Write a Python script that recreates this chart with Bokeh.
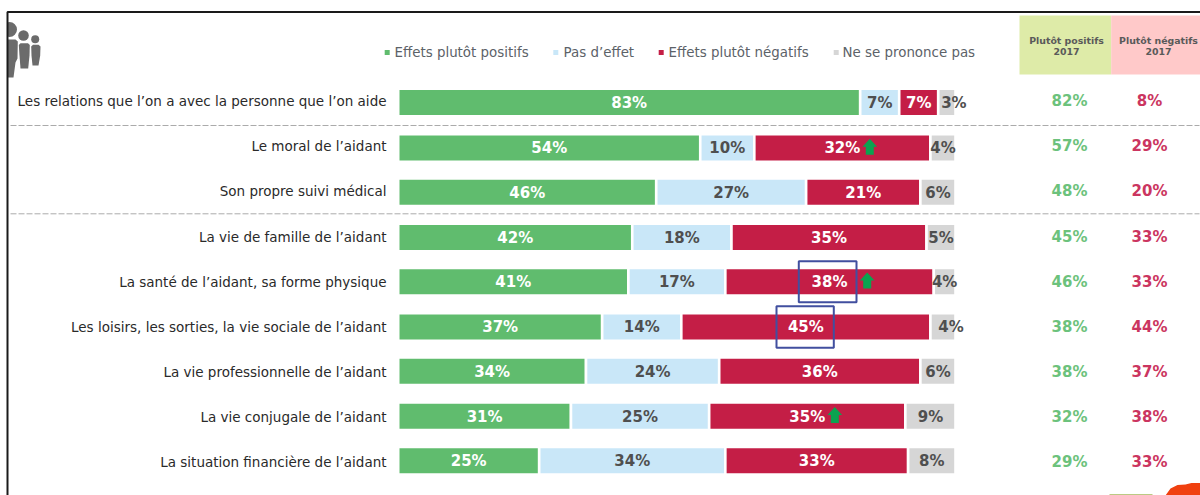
from bokeh.plotting import figure
from bokeh.models import Range1d
from bokeh.core.properties import value
from bokeh.embed import file_html
from bokeh.resources import INLINE

categories = ["Les relations que l’on a avec la personne que l’on aide", "Le moral de l’aidant",
              "Son propre suivi médical", "La vie de famille de l’aidant",
              "La santé de l’aidant, sa forme physique", "Les loisirs, les sorties, la vie sociale de l’aidant",
              "La vie professionnelle de l’aidant", "La vie conjugale de l’aidant", "La situation financière de l’aidant"]
# bar lengths
positive = [82.9, 54.2, 46.3, 42.0, 41.3, 36.6, 33.7, 31.0, 25.3]
no_effect = [7.0, 9.7, 26.9, 17.8, 17.4, 14.2, 23.9, 24.8, 33.4]
negative = [7.0, 31.6, 20.5, 35.0, 37.4, 44.7, 36.1, 35.2, 32.8]
no_opinion = [3.1, 4.5, 6.3, 5.2, 3.9, 4.5, 6.3, 9.0, 8.5]
# printed labels
positive_lbl = [83, 54, 46, 42, 41, 37, 34, 31, 25]
no_effect_lbl = [7, 10, 27, 18, 17, 14, 24, 25, 34]
negative_lbl = [7, 32, 21, 35, 38, 45, 36, 35, 33]
no_opinion_lbl = [3, 4, 6, 5, 4, 4, 6, 9, 8]
positive_2017 = [82, 57, 48, 45, 46, 38, 38, 32, 29]
negative_2017 = [8, 29, 20, 33, 33, 44, 37, 38, 33]
rows_with_arrow = [1, 4, 7]
rows_boxed = [4, 5]
legend_labels = ["Effets plutôt positifs", "Pas d’effet", "Effets plutôt négatifs", "Ne se prononce pas"]

# layout (reference pixels)
ZERO, SCALE = 397.7, 5.573
BAR_Y = [102, 147.6, 191.7, 237, 281.2, 326.5, 370.8, 415.8, 460.2]
TXT_Y = [100.5, 145.5, 190.5, 236, 281, 326, 371, 416, 461.5]
LBL_SHIFT = {0: 7, 5: 8}
ARROW_X = {1: 869.3, 4: 866.7, 7: 834.3}
BOX = {4: (798.3, 856, 260.7, 301.7), 5: (776, 833.3, 305.7, 347.3)}
GREEN, BLUE, RED, GREY = "#60BC6E", "#C9E7F8", "#C41E46", "#D6D6D6"
DARK = "#4F4F4F"
FONT = value("DejaVu Sans")


def X(px):
    return (px - ZERO) / SCALE


p = figure(width=1200, height=495, output_backend="svg", toolbar_location=None,
           x_range=Range1d(X(0), X(1200)), y_range=Range1d(495, 0),
           min_border=0, outline_line_color=None, x_axis_location=None, y_axis_location=None,
           background_fill_color="white", border_fill_color="white",
           styles={"position": "absolute", "left": "0px", "top": "0px"})
p.grid.visible = False

# header boxes
p.quad(left=[X(1019)], right=[X(1110.7)], top=[15], bottom=[74], fill_color="#DEEBA8", line_color=None)
p.quad(left=[X(1110.7)], right=[X(1200)], top=[15], bottom=[74], fill_color="#FFC9C9", line_color=None)
for cx, t in ((1066, "Plutôt positifs"), (1158, "Plutôt négatifs")):
    p.text(x=[X(cx), X(cx)], y=[39.5, 50.5], text=[t, "2017"], text_font=FONT, text_font_style="bold",
           text_font_size="9.4px", text_color="#5A5A5A", text_align="center", text_baseline="middle")

# dashed separators
for yy in (125, 213.3):
    p.line([X(10), X(1199)], [yy, yy], line_color="#ABABAB", line_width=1, line_dash="6 2")

# stacked bars
left = [0.0] * 9
for vals, col in ((positive, GREEN), (no_effect, BLUE), (negative, RED), (no_opinion, GREY)):
    right = [a + b for a, b in zip(left, vals)]
    p.hbar(y=BAR_Y, left=left, right=right, height=27.6, fill_color=col, line_color="white", line_width=2.6)
    left = right

# bar labels
left = [0.0] * 9
for vals, lbls, col, is_grey in ((positive, positive_lbl, "white", 0), (no_effect, no_effect_lbl, DARK, 0),
                                 (negative, negative_lbl, "white", 0), (no_opinion, no_opinion_lbl, DARK, 1)):
    cx = [a + b / 2 + (LBL_SHIFT.get(i, 0) / SCALE if is_grey else 0) for i, (a, b) in enumerate(zip(left, vals))]
    p.text(x=cx, y=[y + 0.3 for y in BAR_Y], text=[f"{v}%" for v in lbls], text_font=FONT, text_font_style="bold",
           text_font_size="15px", text_color=col, text_align="center", text_baseline="middle")
    left = [a + b for a, b in zip(left, vals)]

# category labels
p.text(x=[X(386)] * 9, y=TXT_Y, text=categories, text_font=FONT, text_font_size="13.5px", text_color="#2A2A2A",
       text_align="right", text_baseline="middle")

# 2017 columns
p.text(x=[X(1069)] * 9, y=TXT_Y, text=[f"{v}%" for v in positive_2017], text_font=FONT, text_font_style="bold",
       text_font_size="15px", text_color="#6CC27C", text_align="center", text_baseline="middle")
p.text(x=[X(1149)] * 9, y=TXT_Y, text=[f"{v}%" for v in negative_2017], text_font=FONT, text_font_style="bold",
       text_font_size="15px", text_color="#CB3560", text_align="center", text_baseline="middle")

# arrows
xs, ys = [], []
for r in rows_with_arrow:
    c, top = ARROW_X[r], BAR_Y[r] - 9.3
    xs.append([X(c + d) for d in (0, 7.3, 4, 4, -4, -4, -7.3)])
    ys.append([top + d for d in (0, 8, 8, 16, 16, 8, 8)])
p.patches(xs, ys, fill_color="#0BA350", line_color=None)

# highlight boxes
for r in rows_boxed:
    x0, x1, y0, y1 = BOX[r]
    p.quad(left=[X(x0)], right=[X(x1)], top=[y0], bottom=[y1], fill_color=None, line_color="#414F9F", line_width=2)

# legend
for mx, tx, lab, col in zip((386.7, 555.3, 660.7, 835.7), (394, 563, 668, 842), legend_labels,
                            (GREEN, BLUE, RED, GREY)):
    p.quad(left=[X(mx - 2.5)], right=[X(mx + 2.5)], top=[49.5], bottom=[54.5], fill_color=col, line_color=None)
    p.text(x=[X(tx)], y=[51.5], text=[lab], text_font=FONT, text_font_size="13.4px", text_color="#5C6268",
           text_align="left", text_baseline="middle")

# people icon
for (hx, hy, r, pts) in ((9, 29, 7.5, [(7, 39), (15, 39), (17.3, 41), (17, 58), (15, 62), (13, 77), (7, 77)]),
                         (23, 35, 5.3, [(20, 42.7), (27.5, 42.7), (29.3, 44.5), (29, 55), (27.7, 68), (20, 68), (19, 55), (18.3, 44.5)]),
                         (34.7, 38.7, 4, [(32.5, 44.3), (38, 44.3), (40, 46), (39.7, 55), (38, 65), (32, 65), (31, 55), (30.7, 46)])):
    p.patch([X(a) for a, _ in pts], [b for _, b in pts], fill_color="#6B6B6B", line_color=None)
    p.ellipse(x=[X(hx)], y=[hy], width=2 * r / SCALE, height=2 * r, fill_color="#6B6B6B", line_color=None)

# the icon is cut by the frame: mask what lies left of it
p.quad(left=[X(0)], right=[X(7)], top=[12], bottom=[90], fill_color="white", line_color=None)

# bottom-right decoration
p.patch([X(a) for a in (1165, 1170, 1177, 1185, 1191, 1200, 1200)], [495, 488, 484.5, 484, 482.5, 482.5, 495],
        fill_color="#F0400F", line_color=None)
p.line([X(1109), X(1152)], [494.5, 494.5], line_color="#A5B85A", line_width=1.5)

# frame
p.line([X(7), X(7), X(1200)], [495, 11.5, 11.5], line_color="#1A1A1A", line_width=2)

open("out.html", "w").write(file_html(p, INLINE))
